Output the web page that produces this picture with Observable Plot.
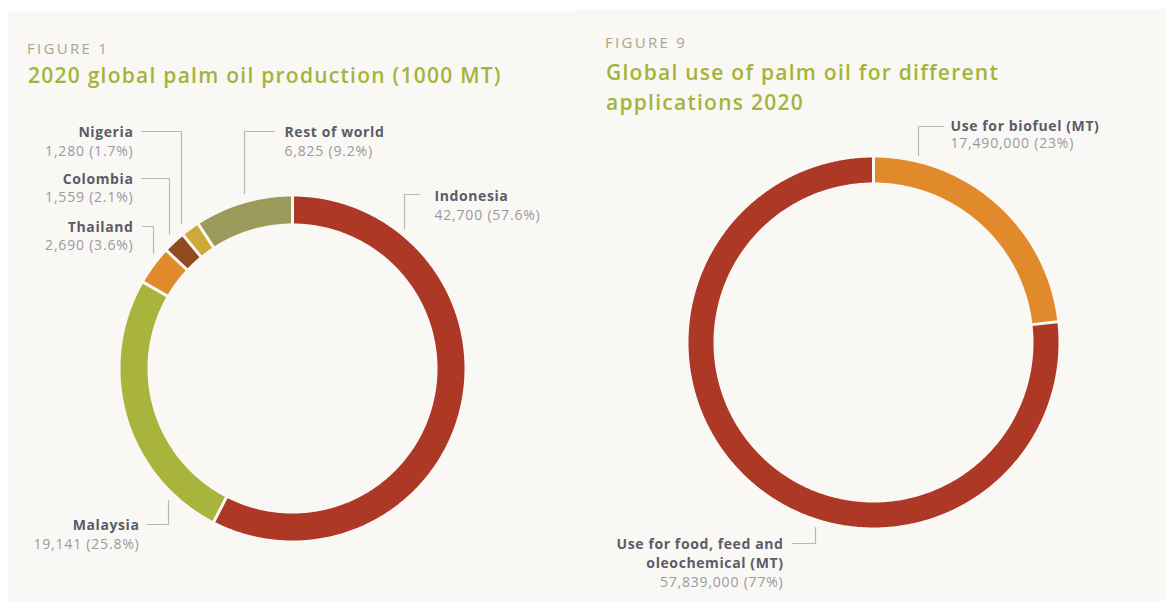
<!DOCTYPE html>
<html><head><meta charset="utf-8">
<script src="https://cdn.jsdelivr.net/npm/d3@7"></script>
<script src="https://cdn.jsdelivr.net/npm/@observablehq/plot@0.6"></script>
<style>
body{margin:0;background:#fff;width:1166px;height:601px;overflow:hidden;position:relative;font-family:"Open Sans",sans-serif;}
.panel{position:absolute;background:#f9f8f4;}
.fig{position:absolute;color:#aca48c;font-size:15px;line-height:20px;letter-spacing:2.3px;white-space:nowrap;}
.title{position:absolute;color:#a4b43a;font-weight:600;font-size:21px;line-height:30px;letter-spacing:1.25px;white-space:nowrap;z-index:2;}
.chart{position:absolute;left:0;z-index:1;}
.donut g[aria-label="text"][font-weight="700"]{letter-spacing:0.6px;}
.donut g[aria-label="text"]:not([font-weight]){letter-spacing:0.8px;}
</style></head>
<body>
<div class="panel" style="left:8px;top:12px;width:567px;height:589px;">
  <div class="fig" style="left:19px;top:26px;">FIGURE 1</div>
  <div class="title" style="left:20px;top:48px;">2020 global palm oil production (1000 MT)</div>
  <div class="chart" id="c1" style="top:96px;"></div>
</div>
<div class="panel" style="left:575px;top:9px;width:591px;height:592px;">
  <div class="fig" style="left:30px;top:23px;">FIGURE 9</div>
  <div class="title" style="left:31px;top:48px;">Global use of palm oil for different<br>applications 2020</div>
  <div class="chart" id="c2" style="top:100px;"></div>
</div>
<script>
// ---- data ----
const prodNames = ["Indonesia", "Malaysia", "Thailand", "Colombia", "Nigeria", "Rest of world"];
const prodValues = [42700, 19141, 2690, 1559, 1280, 6825];
const prodPercents = ["57.6%", "25.8%", "3.6%", "2.1%", "1.7%", "9.2%"];
const prodColors = ["#ad3826", "#a8b43b", "#e08a2c", "#8e4c20", "#cda93a", "#9a9a5a"];

const useNames = ["Use for biofuel (MT)", "Use for food, feed and\noleochemical (MT)"];
const useValues = [17490000, 57839000];
const usePercents = ["23%", "77%"];
const useColors = ["#e08a2c", "#ad3826"];

// ---- layout (pixel offsets from donut centre) ----
const layout1 = {width: 567, height: 480, cx: 284, cy: 260, outer: 172, inner: 145, gap: 3};
const layout2 = {width: 591, height: 483, cx: 298, cy: 233, outer: 185, inner: 160, gap: 3};

const labels1 = [
  {anchor: "start", nx: 142, ny: -174, vy: -153, leader: [[127, -174], [112, -174], [112, -140]]},
  {anchor: "end", nx: -153, ny: 155, vy: 176, leader: [[-145, 156], [-124, 156], [-124, 132]]},
  {anchor: "end", nx: -159, ny: -143, vy: -123, leader: [[-150, -142], [-139, -142], [-139, -115]]},
  {anchor: "end", nx: -159, ny: -191, vy: -171, leader: [[-151, -190], [-123, -190], [-123, -134]]},
  {anchor: "end", nx: -159, ny: -238, vy: -217, leader: [[-151, -237], [-111, -237], [-111, -145]]},
  {anchor: "start", nx: -8, ny: -238, vy: -217, leader: [[-18, -237], [-48, -237], [-48, -175]]}
];
const labels2 = [
  {anchor: "start", nx: 77, ny: -218, vy: -199, leader: [[70, -216], [45, -216], [45, -187]]},
  {anchor: "end", nx: -90, ny: 210, vy: 240, leader: [[-81, 201], [-58, 201], [-58, 185]]}
];

function donut(el, names, values, percents, colors, L, pos) {
  const arcs = d3.pie().sort(null).value(d => d)(values);
  const pts = [];
  arcs.forEach((a, i) => {
    const name = names[i];
    const go = L.gap / 2 / L.outer, gi = L.gap / 2 / L.inner;
    const span = a.endAngle - a.startAngle;
    const n = Math.max(8, Math.ceil(span * 180 / Math.PI * 2));
    for (let k = 0; k <= n; k++) {
      const t = a.startAngle + go + (span - 2 * go) * k / n;
      pts.push({name, x: L.outer * Math.sin(t), y: -L.outer * Math.cos(t)});
    }
    for (let k = n; k >= 0; k--) {
      const t = a.startAngle + gi + (span - 2 * gi) * k / n;
      pts.push({name, x: L.inner * Math.sin(t), y: -L.inner * Math.cos(t)});
    }
  });
  const fmt = d3.format(",");
  const labs = names.map((name, i) => ({name, value: fmt(values[i]) + " (" + percents[i] + ")", ...pos[i]}));
  const leaders = labs.flatMap(d => d.leader.map(([x, y]) => ({name: d.name, x, y})));
  const textMarks = ["start", "end"].flatMap(anchor => {
    const sub = labs.filter(d => d.anchor === anchor);
    return [
      Plot.text(sub, {x: "nx", y: "ny", text: "name", textAnchor: anchor, fill: "#5a5c68", fontWeight: 700, fontSize: 14, lineHeight: 1.38}),
      Plot.text(sub, {x: "nx", y: "vy", text: "value", textAnchor: anchor, fill: "#9b98a1", fontSize: 14})
    ];
  });
  const chart = Plot.plot({
    width: L.width, height: L.height, margin: 0, className: "donut",
    style: {background: "transparent", fontFamily: "Open Sans"},
    x: {domain: [-L.cx, L.width - L.cx], range: [0, L.width], axis: null},
    y: {domain: [-L.cy, L.height - L.cy], range: [0, L.height], axis: null},
    color: {domain: names, range: colors},
    marks: [
      Plot.line(pts, {x: "x", y: "y", z: "name", fill: "name", stroke: "none"}),
      Plot.line(leaders, {x: "x", y: "y", z: "name", stroke: "#b8b8b8", strokeWidth: 1.2}),
      ...textMarks
    ]
  });
  document.getElementById(el).appendChild(chart);
}

donut("c1", prodNames, prodValues, prodPercents, prodColors, layout1, labels1);
donut("c2", useNames, useValues, usePercents, useColors, layout2, labels2);
</script>
</body></html>
